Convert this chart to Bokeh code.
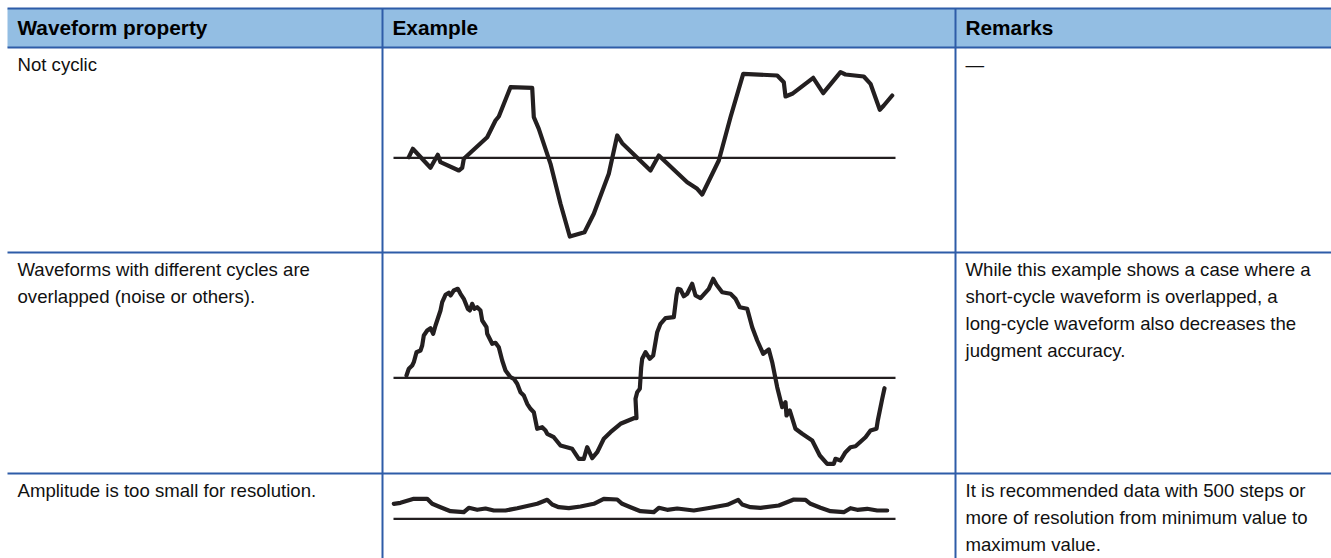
from bokeh.plotting import figure
from bokeh.models import Range1d
from bokeh.core.properties import value
from bokeh.embed import file_html
from bokeh.resources import INLINE

# ---------------- data ----------------
HEADERS = ["Waveform property", "Example", "Remarks"]

PROPERTY_LINES = [
    ["Not cyclic"],
    ["Waveforms with different cycles are", "overlapped (noise or others)."],
    ["Amplitude is too small for resolution."],
]

REMARK_LINES = [
    ["\u2014"],
    ["While this example shows a case where a",
     "short-cycle waveform is overlapped, a",
     "long-cycle waveform also decreases the",
     "judgment accuracy."],
    ["It is recommended data with 500 steps or",
     "more of resolution from minimum value to",
     "maximum value."],
]

# Example waveforms (time, amplitude relative to the reference line)
WAVE1_T = [15.3, 19.3, 37, 44.3, 47, 65.3, 68.7, 70.3, 93.7, 102, 105.3, 117, 138.7,
           140.3, 145.3, 157, 167, 176.3, 191, 200.3, 215.3, 223.7, 228.7, 257, 265.3,
           293.7, 303.7, 308.7, 325.3, 337, 349.7, 383.7, 390.3, 392, 398.7, 419.7,
           429.7, 447, 452, 470.3, 477, 486.3, 490.3, 498.7]
WAVE1_V = [0.6, 9.0, -10, 3, -4.4, -12.7, -10, -1, 20.6, 37.3, 41.3, 70.6, 70,
           40.6, 29, -6, -46, -78.7, -74.4, -56, -16, 22.3, 14.6, -12.7, 2.3,
           -24.4, -31, -36.7, -2.7, 40.6, 84, 82.3, 75.6, 61.3, 64, 80,
           64.6, 85.6, 83.3, 81.3, 74, 48, 52.3, 62.3]

WAVE2_T = [13, 15.3, 18.7, 20.3, 23, 27, 28.7, 30.3, 33.7, 37, 39.7, 42, 47, 48.7, 52,
           55.3, 57, 60.3, 64.3, 67, 70.3, 74.3, 76.3, 78.7, 81, 83.7, 87, 88.7, 93,
           93.7, 98.7, 102, 105.3, 108.7, 112, 117, 120.3, 123.7, 127, 130.3, 133.7,
           137, 140.3, 143.7, 148.7, 152, 153.7, 160.3, 167, 178.7, 185.3, 190.3,
           193.7, 198.7, 203.7, 207, 210.3, 217, 227, 240.3, 243, 242, 243.7, 246.3,
           247.7, 248.7, 252, 256.3, 259.7, 263.7, 267, 272, 280.3, 283, 284.3, 287,
           290.3, 293.7, 298.7, 302, 307, 315.3, 319.7, 323, 328.7, 337, 342, 346.3,
           353.7, 358.7, 363.7, 369.7, 375.3, 378.7, 383.7, 388.7, 392, 393, 396.3,
           402, 408.7, 418.7, 426.3, 433.7, 440.3, 442, 447, 452, 457, 462, 472, 477,
           483, 484.3, 488.7, 491]
WAVE2_V = [2.3, 9, 12.3, 15.6, 25.6, 27.3, 32.3, 42.3, 47.3, 49.6, 44, 52.3, 67.3, 75.6, 83,
           85, 82.3, 87.3, 89, 84, 79, 69, 67.3, 74, 69, 70.6, 67.3, 57.3, 50.6,
           44, 34, 35, 30.6, 17.3, 7.3, 0.6, -1, -6, -14.4, -17.7, -26,
           -31, -34.4, -51, -49.4, -52.7, -56, -59.4, -67.7, -71, -81, -81,
           -69.4, -80.4, -74.4, -67.7, -61, -54.4, -46, -40.4, -40.4, -21, -14.4, -11,
           10.6, 19, 25.6, 19, 22.3, 45.6, 54, 59.6, 60.6, 82.3, 89, 88.3,
           81.6, 84, 94, 82.3, 79.6, 89, 99, 93, 85.6, 84, 79, 70.6,
           69, 50.6, 37.3, 24, 28.3, 15.6, -9.4, -29.4, -24.4, -37.7, -32.7,
           -51, -56, -62.7, -77.7, -86, -86, -81, -82.7, -74.4, -69.4, -68.4, -59.4, -52.7,
           -51, -42.7, -21, -10.4]

WAVE3_T = [0.3, 7, 20.3, 33.7, 38.7, 47, 57, 70.3, 75.3, 83.7, 92, 100.3, 112, 123.7,
           143.7, 153.7, 158.7, 165.3, 175.3, 187, 200.3, 210.3, 223.7, 228.7, 237,
           247, 260.3, 265.3, 273.7, 283.7, 300.3, 317, 333.7, 344.7, 348.7, 357, 367,
           385.3, 400.3, 412, 417, 427, 437, 450.3, 457, 463.7, 473.7, 483.7, 493.7]
WAVE3_V = [15, 16, 20, 20, 15, 11.6, 7.6, 6.6, 11, 9, 10.3, 8.3, 8.3, 10.6,
           15, 19, 14.3, 11.6, 10.6, 12.3, 15, 20, 19.3, 15, 11.6,
           7.6, 6.6, 11, 9, 10.3, 8.3, 11, 14, 19, 14.3, 11.6, 11,
           13.3, 19.3, 19, 15, 11, 7.6, 6.6, 10.6, 9, 10, 8.3, 8.3]

BASE_T = [0, 502]
BASE_V = [0, 0]

# ---------------- layout / style ----------------
W, H = 1331, 558
OX, OY = 0, 0
COL_X = [7, 382, 955, 1331]       # column borders
ROW_Y = [8, 47, 252, 473, 560]    # row borders
TEXT_PAD = 10.0
HEAD_BASE = 26.5
BODY_FIRST = 16.5
LINE_H = 27.3
WAVE_X = 393                      # start of example plots
WAVE_BASE_Y = [157.3, 377.3, 518.3]

BORDER = "#2E5CA8"
HEAD_FILL = "#93BEE3"
INK = "#231F20"
FONT = "Liberation Sans"

p = figure(width=W, height=H, x_range=Range1d(OX, OX + W), y_range=Range1d(OY + H, OY),
           output_backend="svg", toolbar_location=None, min_border=0,
           x_axis_location=None, y_axis_location=None, outline_line_color=None,
           background_fill_color="white", border_fill_color="white")
p.xgrid.visible = False
p.ygrid.visible = False

# header band
p.quad(left=[COL_X[0]], right=[COL_X[-1]], top=[ROW_Y[0]], bottom=[ROW_Y[1]],
       fill_color=HEAD_FILL, line_color=None)

# borders
hx0 = [COL_X[0]] * 4
hx1 = [COL_X[-1]] * 4
hy = ROW_Y[:4]
p.segment(x0=hx0, y0=hy, x1=hx1, y1=hy, line_color=BORDER, line_width=2)
vx = COL_X[1:3]
p.segment(x0=vx, y0=[ROW_Y[0]] * 2, x1=vx, y1=[ROW_Y[-1]] * 2, line_color=BORDER, line_width=2)

# header texts
p.text(x=[c + TEXT_PAD for c in COL_X[:3]], y=[HEAD_BASE] * 3, text=HEADERS,
       text_font=value(FONT), text_font_size=value("20.8px"), text_font_style="bold",
       text_color="#000000", text_baseline="alphabetic", text_align="left")

# body texts
tx, ty, tt = [], [], []
for r in range(3):
    for i, line in enumerate(PROPERTY_LINES[r]):
        tx.append(COL_X[0] + TEXT_PAD)
        ty.append(ROW_Y[r + 1] + BODY_FIRST + i * LINE_H)
        tt.append(line)
    for i, line in enumerate(REMARK_LINES[r]):
        tx.append(COL_X[2] + TEXT_PAD)
        ty.append(ROW_Y[r + 1] + BODY_FIRST + i * LINE_H)
        tt.append(line)
p.text(x=tx, y=ty, text=tt, text_font=value(FONT), text_font_size=value("18.6px"),
       text_color="#111111", text_baseline="alphabetic", text_align="left")

# waveform cells with their own scales
p.extra_x_ranges = {"wt": Range1d(OX - WAVE_X, OX + W - WAVE_X)}
waves = [(WAVE1_T, WAVE1_V), (WAVE2_T, WAVE2_V), (WAVE3_T, WAVE3_V)]
yr = {}
for k, by in enumerate(WAVE_BASE_Y):
    yr["wv%d" % k] = Range1d(by - (OY + H), by - OY)
p.extra_y_ranges = yr

for k, (t, v) in enumerate(waves):
    p.line(BASE_T, BASE_V, x_range_name="wt", y_range_name="wv%d" % k,
           line_color=INK, line_width=2.2)
    p.line(t, v, x_range_name="wt", y_range_name="wv%d" % k,
           line_color=INK, line_width=4.2, line_join="round", line_cap="round")

open("out.html", "w").write(file_html(p, INLINE))
